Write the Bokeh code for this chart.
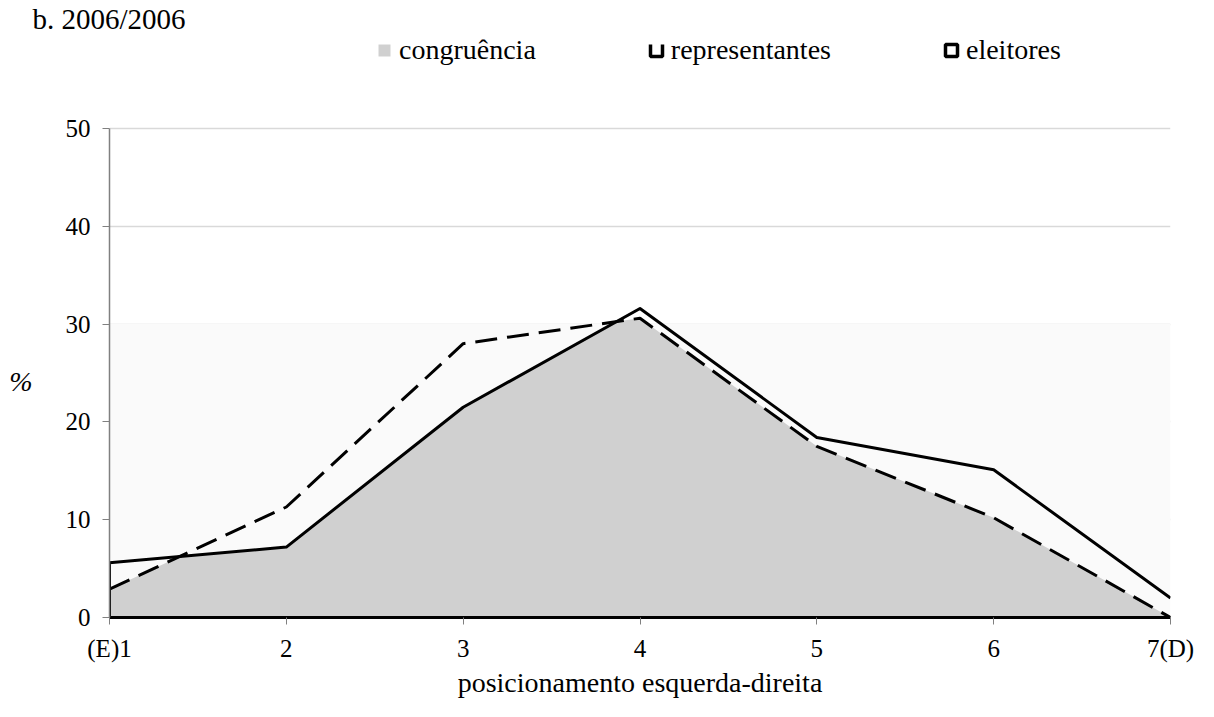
import numpy as np
from bokeh.plotting import figure
from bokeh.models import Range1d, Legend, LegendItem, BoxAnnotation, FixedTicker, Title
from bokeh.embed import file_html
from bokeh.resources import INLINE

# ---- data ----
positions = [1, 2, 3, 4, 5, 6, 7]
tick_labels = {1: "(E)1", 2: "2", 3: "3", 4: "4", 5: "5", 6: "6", 7: "7(D)"}
eleitores = [5.6, 7.2, 21.5, 31.6, 18.4, 15.1, 2.0]
representantes = [2.9, 11.3, 28.0, 30.6, 17.5, 10.2, 0.0]
y_ticks = [0, 10, 20, 30, 40, 50]
title_text = "b. 2006/2006"
x_title = "posicionamento esquerda-direita"
y_title = "%"


def lower_envelope(x, a, b):
    xs, ys = [], []
    for i in range(len(x)):
        xs.append(x[i])
        ys.append(min(a[i], b[i]))
        if i < len(x) - 1:
            d0 = a[i] - b[i]
            d1 = a[i + 1] - b[i + 1]
            if d0 * d1 < 0:
                t = d0 / (d0 - d1)
                xs.append(x[i] + t * (x[i + 1] - x[i]))
                ys.append(a[i] + t * (a[i + 1] - a[i]))
    return xs, ys


cx, cy = lower_envelope(positions, eleitores, representantes)

FONT = "Liberation Serif"

# layout (pixels)
W, H = 1198, 701
TOP, BOTTOM, LEFT, RIGHT = 34, 84, 109, 28
frame_h = H - TOP - BOTTOM
y50_px = 128 - TOP                     # distance of the 50 line below the frame top
px_per_unit = (frame_h - y50_px) / 50.0
y_end = frame_h / px_per_unit

p = figure(width=W, height=H, output_backend="svg", toolbar_location=None,
           x_range=Range1d(1, 7), y_range=Range1d(0, y_end),
           min_border_left=LEFT, min_border_right=RIGHT, min_border_top=TOP, min_border_bottom=BOTTOM)
p.outline_line_color = None
p.background_fill_color = "white"

# faint band
p.add_layout(BoxAnnotation(bottom=0, top=30, fill_color="#fafafa", fill_alpha=1.0, line_color=None, level="underlay"))

# congruence area
cong = p.varea(x=cx, y1=[0] * len(cx), y2=cy, fill_color="#d0d0d0")

# lines
rep_line = p.line(x=positions, y=representantes, line_color="black", line_width=3, line_dash="22 10")
ele_line = p.line(x=[positions[0]] + positions, y=[0] + eleitores, line_color="black", line_width=3,
                  line_join="round")

# legend symbols (hidden renderers on the same data, used only for the legend icons)
cong_sym = p.scatter(x=cx, y=cy, marker="square", fill_color="#d0d0d0", line_color=None, visible=False)
rep_sym = p.scatter(x=positions, y=representantes, marker="square", fill_color="white",
                    line_color="black", line_width=3.5, line_dash="0 12 36 0", visible=False)
ele_sym = p.scatter(x=positions, y=eleitores, marker="square", fill_color="white",
                    line_color="black", line_width=3.5, visible=False)

legend_top_px = 2                      # legend box top relative to frame top
legend = Legend(items=[LegendItem(label="congruência", renderers=[cong_sym]),
                       LegendItem(label="representantes", renderers=[rep_sym]),
                       LegendItem(label="eleitores", renderers=[ele_sym])],
                orientation="horizontal",
                location=(369 - LEFT, frame_h - legend_top_px - 30),
                spacing=105, glyph_width=30, glyph_height=30, label_standoff=0, label_height=30,
                padding=0, margin=0, border_line_color=None, background_fill_alpha=0,
                label_text_font=FONT, label_text_font_size="28px", label_text_color="black")
p.add_layout(legend)
p.add_layout(Title(text=title_text, align="left", offset=-77, standoff=0, text_font=FONT,
                   text_font_size="29px", text_font_style="normal", text_color="black"), "above")

# axes
p.xaxis.ticker = FixedTicker(ticks=positions)
p.xaxis.major_label_overrides = tick_labels
p.yaxis.ticker = FixedTicker(ticks=y_ticks)
p.yaxis.bounds = (0, 50)
for ax in (p.xaxis, p.yaxis):
    ax.axis_line_color = "#808080"
    ax.axis_line_width = 1.5
    ax.major_tick_line_color = "#808080"
    ax.major_tick_in = 0
    ax.major_tick_out = 7
    ax.minor_tick_line_color = None
    ax.major_label_text_font = FONT
    ax.major_label_text_font_size = "25px"
    ax.major_label_text_color = "black"
    ax.axis_label_text_font = FONT
    ax.axis_label_text_font_style = "normal"
    ax.axis_label_text_color = "black"
p.xaxis.axis_line_color = "black"
p.xaxis.axis_line_width = 3
p.xaxis.major_label_standoff = 10
p.yaxis.major_label_standoff = 12
p.xaxis.axis_label = x_title
p.xaxis.axis_label_text_font_size = "28px"
p.xaxis.axis_label_standoff = 2
# the "%" sits at the middle of the 0-50 axis, below the middle of the taller frame
p.yaxis.axis_label = "\n\n\n" + y_title
p.yaxis.axis_label_text_font_size = "28px"
p.yaxis.axis_label_text_font_style = "italic"
p.yaxis.axis_label_standoff = 30
try:
    p.yaxis.axis_label_orientation = "horizontal"
except Exception:
    pass

p.xgrid.grid_line_color = None
p.ygrid.grid_line_color = "#d9d9d9"
p.ygrid.grid_line_width = 1.5

open("out.html", "w").write(file_html(p, INLINE))
